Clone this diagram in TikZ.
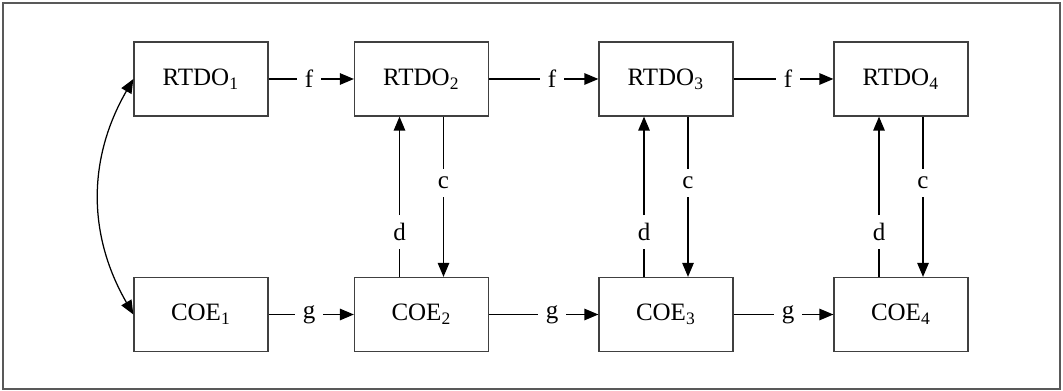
\documentclass[tikz,border=0pt]{standalone}
\usepackage{fontspec}
\setmainfont{Liberation Serif}
\usetikzlibrary{arrows.meta}
\def\tip{Triangle[length=5.6pt,width=4.6pt]}

\begin{document}
\begin{tikzpicture}[x=0.4pt,y=-0.4pt,line width=0.5pt,
    blk/.style={draw=black!75,minimum width=53.6pt,minimum height=29.6pt,inner sep=0pt},
    lbl/.style={inner sep=3pt},
    arr/.style={-{\tip}}]
  \useasboundingbox (0,0) rectangle (1063,391);
  \draw[black!65,line width=0.6pt] (3,3) rectangle (1060,389);
  % upper row
  \node[blk] (rt1) at (201,79)   {RTDO\textsubscript{1}};
  \node[blk] (rt2) at (421.5,79) {RTDO\textsubscript{2}};
  \node[blk] (rt3) at (666,79)   {RTDO\textsubscript{3}};
  \node[blk] (rt4) at (901,79)   {RTDO\textsubscript{4}};
  % lower row
  \node[blk] (co1) at (201,314.5)   {COE\textsubscript{1}};
  \node[blk] (co2) at (421.5,314.5) {COE\textsubscript{2}};
  \node[blk] (co3) at (666,314.5)   {COE\textsubscript{3}};
  \node[blk] (co4) at (901,314.5)   {COE\textsubscript{4}};
  % f and g links
  \foreach \a/\b/\x in {1/2/309,2/3/552,3/4/788} {
    \node[lbl] (f\a) at (\x,79)    {f};
    \node[lbl] (g\a) at (\x,314.5) {g};
    \draw (rt\a) -- (f\a);
    \draw[arr] (f\a) -- (rt\b);
    \draw (co\a) -- (g\a);
    \draw[arr] (g\a) -- (co\b);
  }
  % c and d links
  \foreach \i/\x in {2/421.5,3/666,4/901} {
    \node[lbl] (dl\i) at (\x-22,232) {d};
    \node[lbl] (cl\i) at (\x+22,183) {c};
    \draw (co\i.north -| dl\i) -- (dl\i);
    \draw[arr] (dl\i) -- (rt\i.south -| dl\i);
    \draw (rt\i.south -| cl\i) -- (cl\i);
    \draw[arr] (cl\i) -- (co\i.north -| cl\i);
  }
  \draw[{\tip}-{\tip}] (rt1.west) to[bend right=30] (co1.west);
\end{tikzpicture}
\end{document}
